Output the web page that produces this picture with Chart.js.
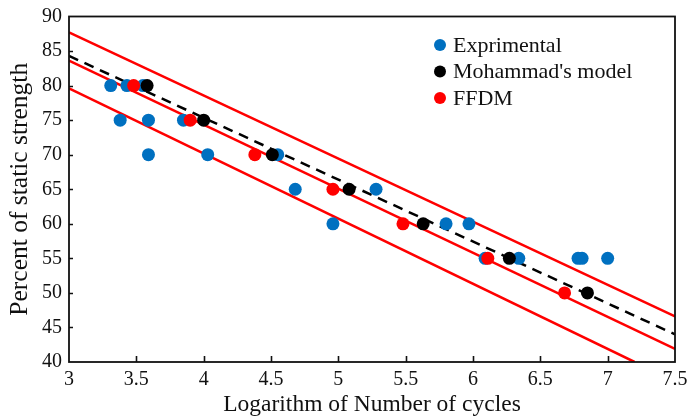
<!DOCTYPE html>
<html>
<head>
<meta charset="utf-8">
<script src="https://cdn.jsdelivr.net/npm/chart.js@4.4.0/dist/chart.umd.min.js"></script>
<style>
html,body{margin:0;padding:0;background:#fff;}
#wrap{width:689px;height:420px;position:relative;}
</style>
</head>
<body>
<div id="wrap"><canvas id="c" width="689" height="420"></canvas></div>
<script>
// ---- data ----
const xTicks = [3, 3.5, 4, 4.5, 5, 5.5, 6, 6.5, 7, 7.5];
const yTicks = [40, 45, 50, 55, 60, 65, 70, 75, 80, 85, 90];

const expX = [3.31, 3.43, 3.55, 3.38, 3.59, 3.59, 3.85, 4.03, 4.55, 4.68, 4.96, 5.28, 5.80, 5.97, 6.09, 6.34, 6.78, 6.81, 7.00];
const expY = [80,   80,   80,   75,   75,   70,   75,   70,   70,   65,   60,   65,   60,   60,   55,   55,   55,   55,   55];

const mohX = [3.58, 4.00, 4.51, 5.08, 5.63, 6.27, 6.85];
const mohY = [80,   75,   70,   65,   60,   55,   50];

const ffdmX = [3.48, 3.90, 4.38, 4.96, 5.48, 6.11, 6.68];
const ffdmY = [80,   75,   70,   65,   60,   55,   50];

const upperLineX = [3, 7.5];   const upperLineY = [87.7, 46.6];
const middleLineX = [3, 7.5];  const middleLineY = [83.6, 41.9];
const lowerLineX = [3, 7.2];   const lowerLineY = [79.6, 40];
const dashLineX = [3, 7.5];    const dashLineY = [84.3, 44.0];

const labels = ["Exprimental", "Mohammad's model", "FFDM"];
const xTitle = "Logarithm of Number of cycles";
const yTitle = "Percent of static strength";

const BLUE = '#0070C0', RED = '#FF0000', BLACK = '#000000';
const FONT = "'Liberation Serif', 'Times New Roman', serif";

const pts = (xs, ys) => xs.map((x, i) => ({x: x, y: ys[i]}));

function lineDs(xs, ys, color, dash) {
  return {
    data: pts(xs, ys), showLine: true, borderColor: color, backgroundColor: color,
    borderWidth: 2.5, borderDash: dash || [], pointRadius: 0, pointHoverRadius: 0,
    order: 4
  };
}

const framePlugin = {
  id: 'frame',
  afterDatasetsDraw(chart) {
    const ctx = chart.ctx, a = chart.chartArea;
    const xs = chart.scales.x, ys = chart.scales.y;
    ctx.save();
    ctx.strokeStyle = '#111';
    ctx.lineWidth = 1.8;
    ctx.strokeRect(a.left, a.top, a.right - a.left, a.bottom - a.top);
    ctx.lineWidth = 1.6;
    ctx.beginPath();
    xTicks.slice(1, -1).forEach(v => {
      const px = Math.round(xs.getPixelForValue(v)) + 0.5;
      ctx.moveTo(px, a.bottom); ctx.lineTo(px, a.bottom - 6);
    });
    yTicks.slice(1, -1).forEach(v => {
      const py = Math.round(ys.getPixelForValue(v)) + 0.5;
      ctx.moveTo(a.left, py); ctx.lineTo(a.left + 4, py);
    });
    ctx.stroke();
    // legend
    const legendX = 440, legendY0 = 45, rowH = 26.5;
    const colors = [BLUE, BLACK, RED];
    ctx.font = "22px " + FONT;
    ctx.textBaseline = 'middle';
    ctx.textAlign = 'left';
    labels.forEach((t, i) => {
      const y = legendY0 + i * rowH;
      ctx.fillStyle = colors[i];
      ctx.beginPath(); ctx.arc(legendX, y, 6, 0, Math.PI * 2); ctx.fill();
      ctx.fillStyle = '#111';
      ctx.fillText(t, legendX + 13, y + 1);
    });
    ctx.restore();
  }
};

new Chart(document.getElementById('c'), {
  type: 'scatter',
  data: {
    datasets: [
      {label: labels[0], data: pts(expX, expY), backgroundColor: BLUE, borderColor: BLUE, pointRadius: 6.5, pointBorderWidth: 0, order: 3},
      {label: labels[1], data: pts(mohX, mohY), backgroundColor: BLACK, borderColor: BLACK, pointRadius: 6.5, pointBorderWidth: 0, order: 1},
      {label: labels[2], data: pts(ffdmX, ffdmY), backgroundColor: RED, borderColor: RED, pointRadius: 6.5, pointBorderWidth: 0, order: 2},
      lineDs(upperLineX, upperLineY, RED),
      lineDs(middleLineX, middleLineY, RED),
      lineDs(lowerLineX, lowerLineY, RED),
      lineDs(dashLineX, dashLineY, BLACK, [10, 7])
    ]
  },
  options: {
    responsive: false,
    animation: false,
    events: [],
    layout: {padding: {left: 0, right: 14, top: 16.5, bottom: 0}},
    plugins: {legend: {display: false}, tooltip: {enabled: false}},
    scales: {
      x: {
        type: 'linear', min: 3, max: 7.5,
        afterBuildTicks: s => { s.ticks = xTicks.map(v => ({value: v})); },
        afterFit: s => { s.height = 58; s.paddingRight = 0; s.paddingLeft = 0; },
        grid: {display: false, drawTicks: false},
        border: {display: false},
        ticks: {color: '#111', font: {family: FONT, size: 20}, padding: 6, maxRotation: 0,
                callback: v => String(v)},
        title: {display: true, text: xTitle, color: '#111', font: {family: FONT, size: 23.5}, padding: {top: 0, bottom: 1}}
      },
      y: {
        type: 'linear', min: 40, max: 90,
        afterBuildTicks: s => { s.ticks = yTicks.map(v => ({value: v})); },
        afterFit: s => { s.width = 69; s.paddingTop = 0; s.paddingBottom = 0; },
        grid: {display: false, drawTicks: false},
        border: {display: false},
        ticks: {color: '#111', font: {family: FONT, size: 20}, padding: 7,
                callback: v => String(v)},
        title: {display: true, text: yTitle, color: '#111', font: {family: FONT, size: 25.5}, padding: {top: 5, bottom: 0}}
      }
    }
  },
  plugins: [framePlugin]
});
</script>
</body>
</html>
